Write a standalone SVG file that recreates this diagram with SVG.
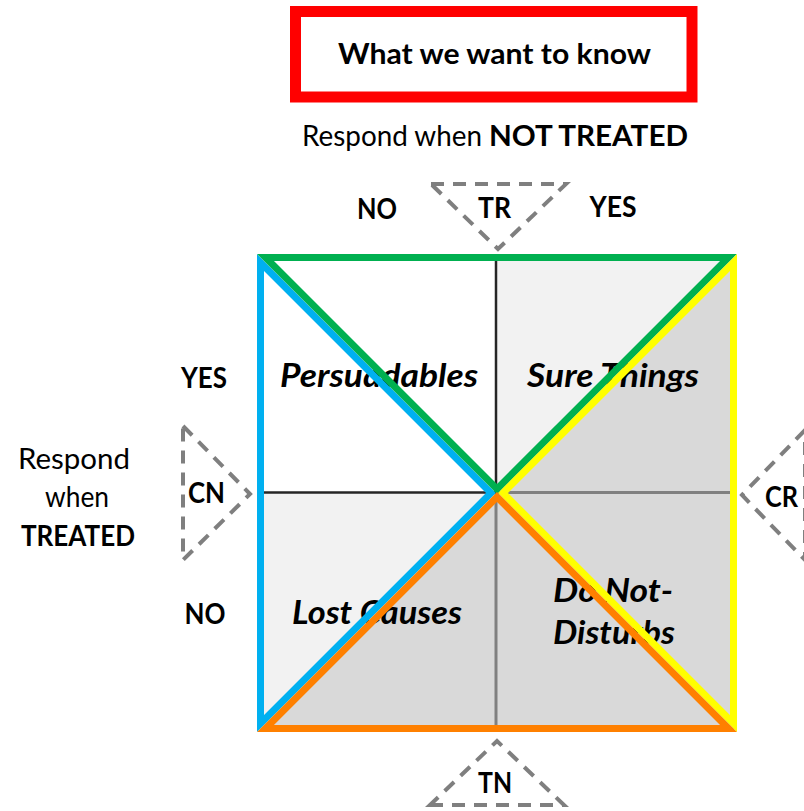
<svg xmlns="http://www.w3.org/2000/svg" width="804" height="811" viewBox="0 0 804 811">
  <defs>
    <style>
      .t { font-family: Lato, "Open Sans", "Noto Sans", sans-serif; fill: #000; }
      .b { font-weight: bold; }
      .bi { font-weight: bold; font-style: italic; }
      .lbl { font-size: 29px; }
      .q { font-size: 32px; }
      .dash { fill: none; stroke: #7f7f7f; stroke-width: 4; stroke-dasharray: 13 9; stroke-linejoin: miter; }
      .tri { fill: none; stroke-width: 7; stroke-linejoin: miter; stroke-miterlimit: 10; }
    </style>
  </defs>
  <rect width="804" height="811" fill="#ffffff"/>

  <!-- title box -->
  <g id="title">
    <rect x="295.5" y="11.5" width="396.5" height="85.5" fill="#ffffff" stroke="#ff0000" stroke-width="11"/>
    <text class="t b lbl" x="494.5" y="64" text-anchor="middle" textLength="313" lengthAdjust="spacingAndGlyphs">What we want to know</text>
  </g>

  <!-- axis captions -->
  <g id="axis-top">
    <text class="t lbl" x="302" y="146" textLength="180" lengthAdjust="spacingAndGlyphs">Respond when</text>
    <text class="t b lbl" x="489" y="146" textLength="199" lengthAdjust="spacingAndGlyphs">NOT TREATED</text>
    <text class="t b lbl" x="377" y="219" text-anchor="middle" textLength="40" lengthAdjust="spacingAndGlyphs">NO</text>
    <text class="t b lbl" x="613" y="217" text-anchor="middle" textLength="47" lengthAdjust="spacingAndGlyphs">YES</text>
  </g>
  <g id="axis-left">
    <text class="t lbl" x="74" y="469" text-anchor="middle" textLength="112" lengthAdjust="spacingAndGlyphs">Respond</text>
    <text class="t lbl" x="77" y="507" text-anchor="middle" textLength="64" lengthAdjust="spacingAndGlyphs">when</text>
    <text class="t b lbl" x="78" y="546" text-anchor="middle" textLength="114" lengthAdjust="spacingAndGlyphs">TREATED</text>
    <text class="t b lbl" x="204" y="388" text-anchor="middle" textLength="46" lengthAdjust="spacingAndGlyphs">YES</text>
    <text class="t b lbl" x="205" y="624" text-anchor="middle" textLength="41" lengthAdjust="spacingAndGlyphs">NO</text>
  </g>

  <!-- quadrant fills -->
  <g id="quadrants">
    <rect id="q-tl" x="260" y="257" width="237" height="236" fill="#ffffff"/>
    <rect id="q-tr" x="497" y="257" width="237" height="236" fill="#f2f2f2"/>
    <rect id="q-bl" x="260" y="493" width="237" height="236" fill="#f2f2f2"/>
    <rect id="q-br" x="497" y="493" width="237" height="236" fill="#d9d9d9"/>
    <polygon points="734,257 734,729 260,729" fill="#d9d9d9"/>
    <!-- inner grid -->
    <line x1="496" y1="257" x2="496" y2="492.5" stroke="#262626" stroke-width="2.5"/>
    <line x1="496" y1="492.5" x2="496" y2="729" stroke="#808080" stroke-width="3"/>
    <line x1="260" y1="492.5" x2="496" y2="492.5" stroke="#262626" stroke-width="2.5"/>
    <line x1="496" y1="492.5" x2="734" y2="492.5" stroke="#808080" stroke-width="3"/>
  </g>

  <!-- quadrant labels -->
  <g id="labels">
    <text class="t bi q" x="379" y="387" text-anchor="middle" textLength="198" lengthAdjust="spacingAndGlyphs">Persuadables</text>
    <text class="t bi q" x="613" y="387" text-anchor="middle" textLength="172" lengthAdjust="spacingAndGlyphs">Sure Things</text>
    <text class="t bi q" x="377" y="624" text-anchor="middle" textLength="170" lengthAdjust="spacingAndGlyphs">Lost Causes</text>
    <text class="t bi q" x="613" y="602" text-anchor="middle" textLength="120" lengthAdjust="spacingAndGlyphs">Do Not-</text>
    <text class="t bi q" x="614" y="644" text-anchor="middle" textLength="122" lengthAdjust="spacingAndGlyphs">Disturbs</text>
  </g>

  <!-- coloured triangles over the matrix -->
  <g id="connectors">
    <polygon id="tri-left" class="tri" stroke="#00b0f0" points="260.5,262.5 491,493 260.5,723.5"/>
    <polygon id="tri-top" class="tri" stroke="#00b050" points="265.5,257.5 728.5,257.5 497,489"/>
    <polygon id="tri-right" class="tri" stroke="#ffff00" points="733.5,262.5 733.5,723.5 503,493"/>
    <polygon id="tri-bottom" class="tri" stroke="#ff8000" points="265.5,728.5 728.5,728.5 497,497"/>
  </g>

  <!-- dashed pointer triangles -->
  <g id="ptr-tr">
    <polygon class="dash" points="431,184 566,184 498,249"/>
    <text class="t b lbl" x="494.5" y="218" text-anchor="middle" textLength="33" lengthAdjust="spacingAndGlyphs">TR</text>
  </g>
  <g id="ptr-cn">
    <polygon class="dash" points="183,426 250,494 183,560"/>
    <text class="t b lbl" x="206.5" y="503" text-anchor="middle" textLength="37" lengthAdjust="spacingAndGlyphs">CN</text>
  </g>
  <g id="ptr-cr">
    <polygon class="dash" points="805,430 742,495 805,560"/>
    <text class="t b lbl" x="781.5" y="507" text-anchor="middle" textLength="33" lengthAdjust="spacingAndGlyphs">CR</text>
  </g>
  <g id="ptr-tn">
    <polygon class="dash" points="430,805 564,805 497,741"/>
    <text class="t b lbl" x="495" y="793" text-anchor="middle" textLength="34" lengthAdjust="spacingAndGlyphs">TN</text>
  </g>
</svg>
